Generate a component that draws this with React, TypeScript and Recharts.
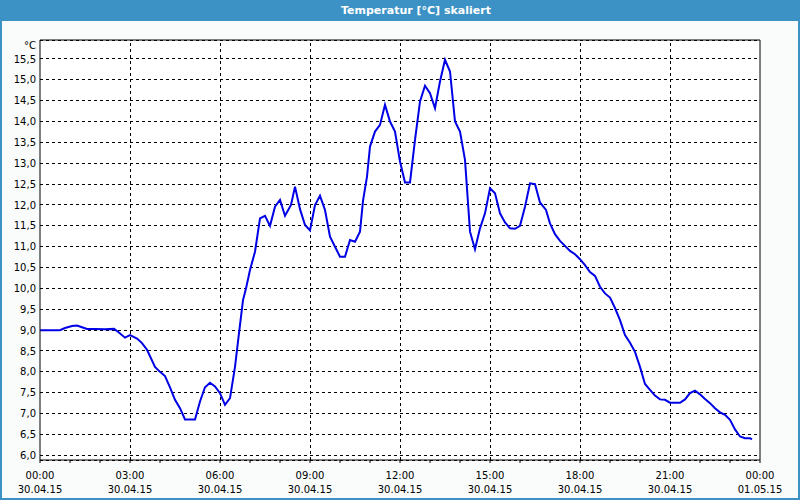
import { LineChart, Line, XAxis, YAxis, CartesianGrid, ReferenceLine } from 'recharts';

const minutes = [
  0, 20, 40, 50, 64, 74, 84, 94, 110, 130, 148, 156, 170, 180, 194, 204, 214, 230, 240, 250,
  260, 270, 280, 290, 310, 320, 330, 340, 350, 360, 370, 380, 390, 398, 406, 412, 420, 430, 440, 450,
  460, 470, 480, 490, 502, 510, 520, 530, 540, 550, 560, 570, 580, 590, 600, 610, 620, 630, 640, 646,
  654, 660, 670, 680, 690, 700, 710, 720, 730, 740, 750, 760, 770, 780, 790, 800, 810, 820, 830, 840,
  850, 860, 870, 880, 890, 900, 910, 920, 930, 940, 950, 960, 970, 980, 990, 1000, 1012, 1020, 1030, 1040,
  1050, 1060, 1070, 1080, 1090, 1100, 1110, 1120, 1130, 1140, 1150, 1160, 1170, 1180, 1190, 1200, 1210, 1220, 1230, 1240,
  1250, 1260, 1280, 1290, 1300, 1310, 1320, 1330, 1340, 1350, 1360, 1370, 1380, 1390, 1400, 1410, 1420, 1424,
];

const temps = [
  9.0, 9.0, 9.0, 9.05, 9.1, 9.11, 9.07, 9.03, 9.03, 9.02, 9.03, 8.96, 8.82, 8.88, 8.8, 8.69, 8.53, 8.12, 8.0, 7.9,
  7.63, 7.33, 7.13, 6.86, 6.86, 7.29, 7.63, 7.74, 7.65, 7.49, 7.21, 7.37, 8.12, 8.93, 9.72, 10.0, 10.44, 10.88, 11.68, 11.74,
  11.5, 11.96, 12.12, 11.74, 12.0, 12.44, 11.9, 11.52, 11.39, 12.0, 12.22, 11.88, 11.24, 11.0, 10.76, 10.76, 11.16, 11.12, 11.36, 12.1,
  12.68, 13.4, 13.76, 13.92, 14.4, 14.0, 13.76, 13.04, 12.54, 12.54, 13.56, 14.48, 14.86, 14.68, 14.32, 14.96, 15.48, 15.2, 14.0, 13.76,
  13.08, 11.36, 10.94, 11.44, 11.8, 12.4, 12.28, 11.8, 11.58, 11.44, 11.43, 11.5, 11.96, 12.52, 12.5, 12.06, 11.88, 11.56, 11.3, 11.14,
  11.02, 10.9, 10.82, 10.7, 10.56, 10.39, 10.3, 10.04, 9.88, 9.78, 9.53, 9.24, 8.88, 8.7, 8.48, 8.12, 7.71, 7.57, 7.43, 7.34,
  7.33, 7.26, 7.26, 7.34, 7.49, 7.55, 7.46, 7.35, 7.25, 7.13, 7.03, 6.97, 6.85, 6.62, 6.45, 6.41, 6.41, 6.38,
];

const timeLabels = ['00:00', '03:00', '06:00', '09:00', '12:00', '15:00', '18:00', '21:00', '00:00'];
const dateLabels = ['30.04.15', '30.04.15', '30.04.15', '30.04.15', '30.04.15', '30.04.15', '30.04.15', '30.04.15', '01.05.15'];
const hourTicks = [0, 60, 120, 180, 240, 300, 360, 420, 480, 540, 600, 660, 720, 780, 840, 900, 960, 1020, 1080, 1140, 1200, 1260, 1320, 1380, 1440];
const gridTimes = [180, 360, 540, 720, 900, 1080, 1260];
const yTicks = [6, 6.5, 7, 7.5, 8, 8.5, 9, 9.5, 10, 10.5, 11, 11.5, 12, 12.5, 13, 13.5, 14, 14.5, 15, 15.5];

const Y_MIN = 5.887;
const Y_MAX = 15.955;

const data = minutes.map((m, i) => ({ t: m, temp: temps[i] }));

const FONT = '"DejaVu Sans", Tahoma, sans-serif';

function TimeTick(props: any) {
  const { x, y, payload } = props;
  if (payload.value % 180 !== 0) return <g />;
  const idx = payload.value / 180;
  return (
    <text x={x} y={y} textAnchor="middle" fontSize={10} fill="#000" fontFamily={FONT}>
      <tspan x={x} dy={14}>{timeLabels[idx]}</tspan>
      <tspan x={x} dy={14}>{dateLabels[idx]}</tspan>
    </text>
  );
}

function UnitLabel(props: any) {
  const { viewBox } = props;
  return (
    <text x={viewBox.x + viewBox.width - 4} y={viewBox.y + 9} textAnchor="end" fontSize={10} fill="#000" fontFamily={FONT}>
      °C
    </text>
  );
}

export default function App() {
  return (
    <div style={{ width: 800, height: 500, boxSizing: 'border-box', border: '2px solid #3c92c5', borderTop: 'none', background: '#f9fcfb', fontFamily: FONT }}>
      <style>{'body{margin:0}'}</style>
      <div style={{ height: 21, marginLeft: -2, marginRight: -2, background: '#3c92c5', color: '#fff', fontWeight: 'bold', fontSize: 11, lineHeight: '21px', textAlign: 'center', paddingLeft: 32 }}>
        Temperatur [°C] skaliert
      </div>
      <LineChart width={796} height={477} data={data} margin={{ top: 19, right: 38, left: 0, bottom: 0 }}>
        <CartesianGrid vertical={false} horizontal={true} stroke="#000" strokeDasharray="3 3" fill="#fff" fillOpacity={1} shapeRendering="crispEdges" />
        <XAxis
          dataKey="t"
          type="number"
          domain={[0, 1440]}
          ticks={hourTicks}
          interval={0}
          height={38}
          tickSize={3}
          tick={<TimeTick />}
          axisLine={{ stroke: '#000' }}
          tickLine={{ stroke: '#000' }}
        />
        <YAxis
          type="number"
          domain={[Y_MIN, Y_MAX]}
          ticks={yTicks}
          interval={0}
          width={38}
          tickSize={2}
          tickLine={false}
          axisLine={{ stroke: '#000' }}
          tick={{ fill: '#000', fontSize: 10, fontFamily: FONT }}
          tickFormatter={(v: number) => v.toFixed(1).replace('.', ',')}
          label={<UnitLabel />}
        />
        {gridTimes.map((g) => (
          <ReferenceLine key={g} x={g} stroke="#000" strokeDasharray="3 3" shapeRendering="crispEdges" />
        ))}
        <ReferenceLine x={1440} stroke="#000" />
        <ReferenceLine y={Y_MAX} stroke="#000" />
        <Line
          type="linear"
          dataKey="temp"
          stroke="#0000e6"
          strokeWidth={2}
          dot={false}
          isAnimationActive={false}
        />
      </LineChart>
    </div>
  );
}
